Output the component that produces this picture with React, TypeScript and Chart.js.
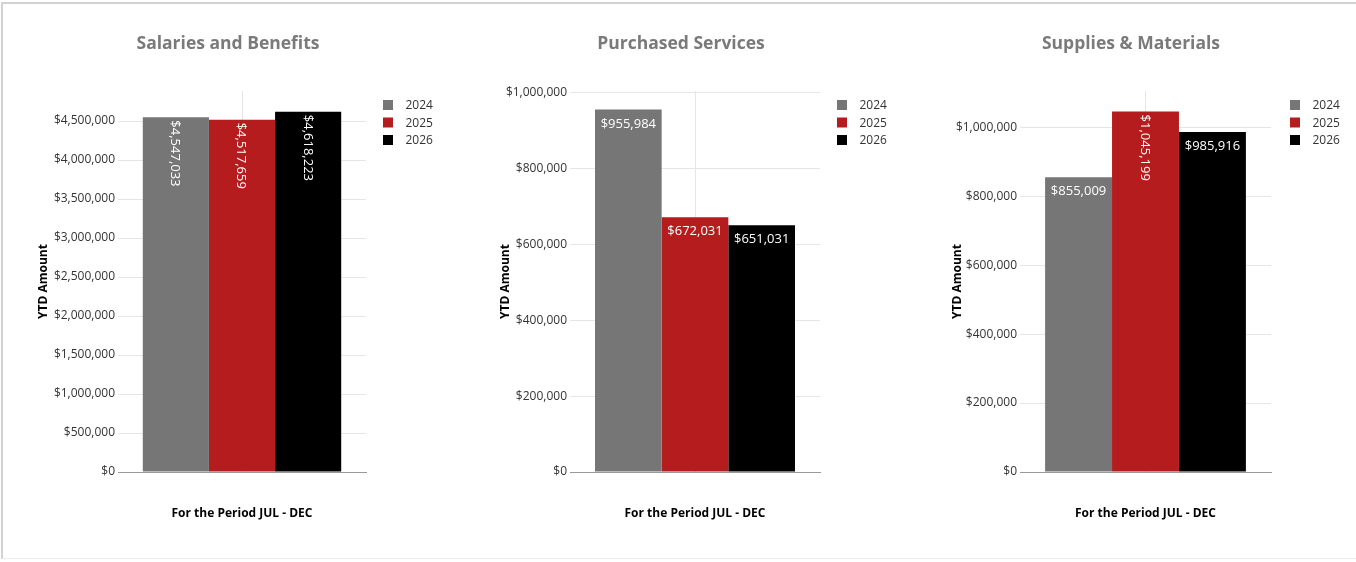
import React, { useEffect, useRef } from "react";
import { Chart, registerables } from "chart.js";

Chart.register(...registerables);

// ---------------- data ----------------
const SERIES_YEARS = ["2024", "2025", "2026"];
const SERIES_COLORS = ["#767676", "#B51C1E", "#000000"];
const CATEGORY_LABELS = [""];
const X_AXIS_TITLE = "For the Period JUL - DEC";
const Y_AXIS_TITLE = "YTD Amount";

const SALARIES_TITLE = "Salaries and Benefits";
const SALARIES_VALUES = [4547033, 4517659, 4618223];
const SALARIES_TICKS = [0, 500000, 1000000, 1500000, 2000000, 2500000, 3000000, 3500000, 4000000, 4500000];
const SALARIES_MAX = 4885000;

const PURCHASED_TITLE = "Purchased Services";
const PURCHASED_VALUES = [955984, 672031, 651031];
const PURCHASED_TICKS = [0, 200000, 400000, 600000, 800000, 1000000];
const PURCHASED_MAX = 1005000;

const SUPPLIES_TITLE = "Supplies & Materials";
const SUPPLIES_VALUES = [855009, 1045199, 985916];
const SUPPLIES_TICKS = [0, 200000, 400000, 600000, 800000, 1000000];
const SUPPLIES_MAX = 1105000;

// ---------------- layout ----------------
const PAGE_W = 1356;
const PAGE_H = 562;
const FONT = "'Open Sans', 'Noto Sans', sans-serif";
const PLOT_TOP = 91;
const PLOT_BOTTOM = 472;
const X_TITLE_CENTER = 513.5;
const TITLE_BASELINE = 49;
const LEGEND_ROWS = [105, 122.5, 140];
const AXIS_TITLE_SIZE = 12;
const AXIS_TITLE_OFFSET = (AXIS_TITLE_SIZE * 1.2) / 2 + 4;

const fmt = (v: number) => "$" + Math.round(v).toLocaleString("en-US");

type PanelLayout = {
  canvasLeft: number;
  canvasWidth: number;
  plotLeft: number;
  plotRight: number;
  yTitleX: number;
  titleX: number;
  legendX: number;
};

const PANELS: { title: string; values: number[]; ticks: number[]; max: number; layout: PanelLayout }[] = [
  {
    title: SALARIES_TITLE,
    values: SALARIES_VALUES,
    ticks: SALARIES_TICKS,
    max: SALARIES_MAX,
    layout: { canvasLeft: 0, canvasWidth: 453, plotLeft: 118, plotRight: 366, yTitleX: 44, titleX: 228, legendX: 383 },
  },
  {
    title: PURCHASED_TITLE,
    values: PURCHASED_VALUES,
    ticks: PURCHASED_TICKS,
    max: PURCHASED_MAX,
    layout: { canvasLeft: 453, canvasWidth: 453, plotLeft: 570, plotRight: 820, yTitleX: 506, titleX: 681, legendX: 837 },
  },
  {
    title: SUPPLIES_TITLE,
    values: SUPPLIES_VALUES,
    ticks: SUPPLIES_TICKS,
    max: SUPPLIES_MAX,
    layout: { canvasLeft: 906, canvasWidth: 450, plotLeft: 1020, plotRight: 1271, yTitleX: 958, titleX: 1131, legendX: 1290 },
  },
];

function Panel({ title, values, ticks, max, layout }: (typeof PANELS)[number]) {
  const ref = useRef<HTMLCanvasElement | null>(null);

  useEffect(() => {
    if (!ref.current) return;
    const L = layout.canvasLeft;
    const padLeft = layout.yTitleX - L - AXIS_TITLE_OFFSET;
    const yWidth = layout.plotLeft - L - padLeft;
    const padRight = L + layout.canvasWidth - layout.plotRight;
    const xHeight = X_TITLE_CENTER + AXIS_TITLE_OFFSET - PLOT_BOTTOM;
    const padBottom = PAGE_H - PLOT_BOTTOM - xHeight;

    const decorations = {
      id: "decorations",
      afterDatasetsDraw(chart: any) {
        const ctx = chart.ctx as CanvasRenderingContext2D;
        ctx.save();
        ctx.font = `13px ${FONT}`;
        ctx.fillStyle = "#ffffff";
        chart.data.datasets.forEach((ds: any, i: number) => {
          const meta = chart.getDatasetMeta(i);
          const el = meta.data[0];
          if (!el) return;
          const { x, y, width } = el.getProps(["x", "y", "width"], true);
          const text = fmt(ds.data[0]);
          const w = ctx.measureText(text).width;
          if (w + 4 > width) {
            ctx.save();
            ctx.translate(x - 4.6, y + 3);
            ctx.rotate(Math.PI / 2);
            ctx.textAlign = "left";
            ctx.textBaseline = "alphabetic";
            ctx.fillText(text, 0, 0);
            ctx.restore();
          } else {
            ctx.textAlign = "center";
            ctx.textBaseline = "alphabetic";
            ctx.fillText(text, x, y + 18);
          }
        });
        ctx.restore();
      },
      afterDraw(chart: any) {
        const ctx = chart.ctx as CanvasRenderingContext2D;
        ctx.save();
        ctx.font = `bold 17.5px ${FONT}`;
        ctx.fillStyle = "#7a7a7a";
        ctx.textAlign = "center";
        ctx.textBaseline = "alphabetic";
        ctx.fillText(title, layout.titleX - L, TITLE_BASELINE);

        ctx.font = `12px ${FONT}`;
        ctx.textAlign = "left";
        SERIES_YEARS.forEach((yr, i) => {
          const cy = LEGEND_ROWS[i];
          ctx.fillStyle = SERIES_COLORS[i];
          ctx.fillRect(layout.legendX - L, cy - 5, 10, 10);
          ctx.fillStyle = "#333333";
          ctx.fillText(yr, layout.legendX - L + 22.5, cy + 4.3);
        });
        ctx.restore();
      },
    };

    const chart = new Chart(ref.current, {
      type: "bar",
      data: {
        labels: CATEGORY_LABELS,
        datasets: SERIES_YEARS.map((yr, i) => ({
          label: yr,
          data: [values[i]],
          backgroundColor: SERIES_COLORS[i],
          borderWidth: 0,
          categoryPercentage: 0.8,
          barPercentage: 1,
        })),
      },
      options: {
        responsive: false,
        animation: false,
        layout: { padding: { left: padLeft, right: padRight, top: PLOT_TOP, bottom: padBottom } },
        plugins: {
          legend: { display: false },
          tooltip: { enabled: false },
          title: { display: false },
        },
        scales: {
          x: {
            type: "category",
            ticks: { display: false },
            grid: { offset: false, color: "#e6e6e6", drawTicks: false },
            border: { display: true, color: "#999999", width: 1 },
            title: {
              display: true,
              text: X_AXIS_TITLE,
              color: "#000000",
              font: { family: FONT, size: AXIS_TITLE_SIZE, weight: "bold" },
              padding: { top: 4, bottom: 4 },
            },
            afterFit: (s: any) => {
              s.height = xHeight;
            },
          },
          y: {
            type: "linear",
            min: 0,
            max,
            afterBuildTicks: (s: any) => {
              s.ticks = ticks.map((v) => ({ value: v }));
            },
            ticks: {
              callback: (v: any) => fmt(Number(v)),
              color: "#333333",
              font: { family: FONT, size: 12 },
              padding: 3,
            },
            grid: {
              color: (c: any) => (c.tick && c.tick.value === 0 ? "rgba(0,0,0,0)" : "#e6e6e6"),
              drawTicks: false,
            },
            border: { display: false },
            title: {
              display: true,
              text: Y_AXIS_TITLE,
              color: "#000000",
              font: { family: FONT, size: AXIS_TITLE_SIZE, weight: "bold" },
              padding: { top: 4, bottom: 4 },
            },
            afterFit: (s: any) => {
              s.width = yWidth;
            },
          },
        },
      } as any,
      plugins: [decorations],
    });
    return () => chart.destroy();
  }, []);

  return (
    <canvas
      ref={ref}
      width={layout.canvasWidth}
      height={PAGE_H}
      style={{
        position: "absolute",
        left: layout.canvasLeft,
        top: 0,
        width: layout.canvasWidth,
        height: PAGE_H,
      }}
    />
  );
}

export default function App() {
  return (
    <div
      style={{
        position: "fixed",
        left: 0,
        top: 0,
        width: PAGE_W,
        height: PAGE_H,
        background: "#ffffff",
        overflow: "hidden",
      }}
    >
      <div
        style={{
          position: "absolute",
          left: 1,
          top: 2,
          width: PAGE_W + 10,
          height: 557,
          borderTop: "2px solid #d2d2d2",
          borderLeft: "2px solid #d2d2d2",
          borderBottom: "1px solid #ececec",
          boxSizing: "border-box",
        }}
      />
      {PANELS.map((p) => (
        <Panel key={p.title} {...p} />
      ))}
    </div>
  );
}
